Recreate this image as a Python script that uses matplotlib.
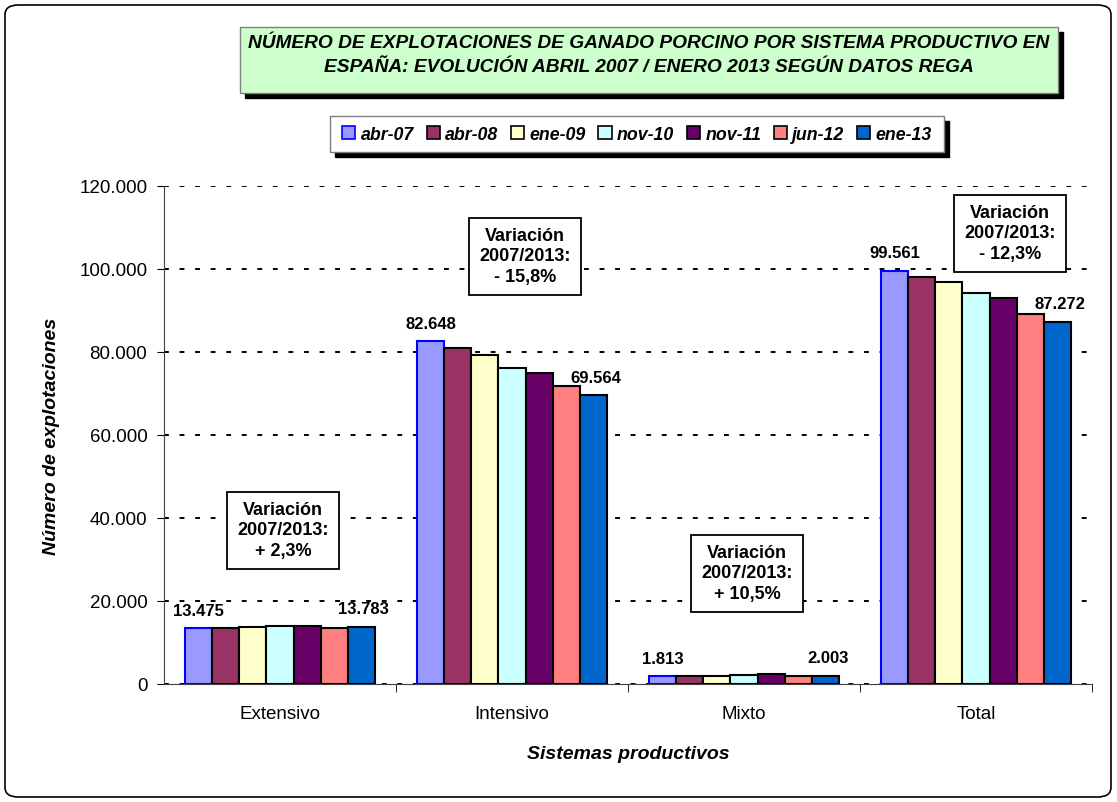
import numpy as np
import matplotlib
matplotlib.use("Agg")
import matplotlib.pyplot as plt
from matplotlib.patches import FancyBboxPatch, Rectangle
from matplotlib.ticker import FuncFormatter

plt.rcParams['font.family'] = ['Liberation Sans', 'DejaVu Sans']

categories = ['Extensivo', 'Intensivo', 'Mixto', 'Total']
series = ['abr-07', 'abr-08', 'ene-09', 'nov-10', 'nov-11', 'jun-12', 'ene-13']
values = {
    'abr-07': [13475, 82648, 1813, 99561],
    'abr-08': [13500, 80900, 1900, 98100],
    'ene-09': [13750, 79300, 1950, 96900],
    'nov-10': [13950, 76200, 2250, 94100],
    'nov-11': [13950, 74900, 2350, 93000],
    'jun-12': [13600, 71700, 2000, 89200],
    'ene-13': [13783, 69564, 2003, 87272],
}
variation_labels = ['Variación\n2007/2013:\n+ 2,3%', 'Variación\n2007/2013:\n- 15,8%',
                    'Variación\n2007/2013:\n+ 10,5%', 'Variación\n2007/2013:\n- 12,3%']
title_lines = ['NÚMERO DE EXPLOTACIONES DE GANADO PORCINO POR SISTEMA PRODUCTIVO EN',
               'ESPAÑA: EVOLUCIÓN ABRIL 2007 / ENERO 2013 SEGÚN DATOS REGA']

colors = ['#9999FF', '#993366', '#FFFFCC', '#CCFFFF', '#660066', '#FF8080', '#0066CC']
edges = ['#0000FF', 'black', 'black', 'black', 'black', 'black', 'black']

fig = plt.figure(figsize=(11.17, 8.03), dpi=100)
W, H = 1117, 803

def fr(x0, y0, w, h):
    # pixel box (top-left origin) -> figure fraction rect
    return (x0 / W, 1 - (y0 + h) / H), w / W, h / H

# outer rounded frame
frame = FancyBboxPatch((5 / W, 5 / H), 1106 / W, 792 / H,
                       boxstyle="round,pad=0,rounding_size=0.012",
                       transform=fig.transFigure, fill=False, edgecolor='black', lw=1.2)
fig.patches.append(frame)

ax = fig.add_axes([164 / W, 1 - 685 / H, 928 / W, 498 / H])
n = len(series)
gw = 0.82
bw = gw / n
x = np.arange(len(categories))
for i, s in enumerate(series):
    pos = x - gw / 2 + bw * (i + 0.5)
    ax.bar(pos, values[s], width=bw, color=colors[i], edgecolor=edges[i], linewidth=1.5, zorder=3)

# value labels on first and last series
for j in range(len(categories)):
    p0 = x[j] - gw / 2 + bw * 0.5
    p1 = x[j] - gw / 2 + bw * (n - 0.5)
    ax.text(p0, values[series[0]][j] + 2500, f"{values[series[0]][j]:,}".replace(',', '.'),
            ha='center', va='bottom', fontsize=12, fontweight='bold', zorder=5)
    ax.text(p1 + 0.01, values[series[-1]][j] + 2500, f"{values[series[-1]][j]:,}".replace(',', '.'),
            ha='center', va='bottom', fontsize=12, fontweight='bold', zorder=5)

ax.set_xlim(-0.5, 3.5)
ax.set_ylim(0, 120000)
ax.set_yticks(np.arange(0, 120001, 20000))
ax.yaxis.set_major_formatter(FuncFormatter(lambda v, p: f"{int(v):,}".replace(',', '.')))
ax.grid(axis='y', color='black', linestyle=(0, (2.5, 5.5)), linewidth=1.4, zorder=0)
ax.set_xticks(x)
ax.set_xticklabels(categories, fontsize=13.5)
ax.set_xticks([0.5, 1.5, 2.5, 3.5], minor=True)
ax.tick_params(axis='x', which='major', length=0, pad=15)
ax.tick_params(axis='x', which='minor', length=6, direction='out', color='black')
ax.tick_params(axis='y', labelsize=13.5, length=5, direction='out', pad=7)
for sp in ['top', 'right']:
    ax.spines[sp].set_visible(False)
ax.spines['left'].set_color('#404040')
ax.spines['bottom'].set_color('#404040')

ax.set_ylabel('Número de explotaciones', fontsize=14, fontweight='bold', style='italic', labelpad=14)
ax.set_xlabel('Sistemas productivos', fontsize=14, fontweight='bold', style='italic', labelpad=17)

# variation boxes (pixel centres)
box_pos = [(283, 531), (525, 257), (747, 574), (1010, 234)]
for (bx, by), t in zip(box_pos, variation_labels):
    fig.patches.append(Rectangle(*fr(bx - 56, by - 38, 112, 77), transform=fig.transFigure,
                                 facecolor='white', edgecolor='black', lw=1.3, zorder=6))
    fig.text(bx / W, 1 - by / H, t, ha='center', va='center', fontsize=13, fontweight='bold',
             linespacing=1.3, zorder=7)

# title box with shadow
fig.patches.append(Rectangle(*fr(245, 33, 818, 66), transform=fig.transFigure,
                             facecolor='black', edgecolor='black', zorder=1))
fig.patches.append(Rectangle(*fr(240, 28, 818, 66), transform=fig.transFigure,
                             facecolor='#CCFFCC', edgecolor='#808080', lw=1, zorder=2))
for k, line in enumerate(title_lines):
    fig.text(649 / W, 1 - (44 + 23 * k) / H, line, ha='center', va='center',
             fontsize=13.8, fontweight='bold', style='italic', zorder=3)

# legend with shadow
fig.patches.append(Rectangle(*fr(335, 122, 614, 36), transform=fig.transFigure,
                             facecolor='black', edgecolor='black', zorder=1))
fig.patches.append(Rectangle(*fr(330, 117, 614, 36), transform=fig.transFigure,
                             facecolor='white', edgecolor='#808080', lw=1, zorder=2))
handles = [Rectangle((0, 0), 1, 1, facecolor=colors[i], edgecolor=edges[i], lw=1.2) for i in range(n)]
leg = fig.legend(handles, series, loc='center', bbox_to_anchor=(637 / W, 1 - 135 / H), ncol=n,
                 frameon=False, handlelength=0.75, handleheight=0.75, handletextpad=0.3, columnspacing=0.7,
                 prop=dict(size=12.8, weight='bold', style='italic'))

fig.savefig('out.png', dpi=100)
